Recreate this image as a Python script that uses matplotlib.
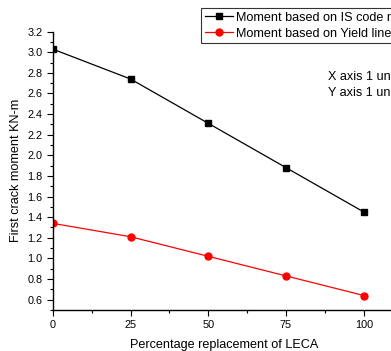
import matplotlib
matplotlib.use("Agg")
import matplotlib.pyplot as plt
from matplotlib.ticker import MultipleLocator

plt.rcParams['font.family'] = ['Liberation Sans', 'DejaVu Sans']

leca = [0, 25, 50, 75, 100]
moment_is = [3.03, 2.74, 2.31, 1.88, 1.45]
moment_yield = [1.34, 1.21, 1.02, 0.83, 0.64]

fig = plt.figure(figsize=(3.91, 3.51), dpi=100)
ax = fig.add_axes([0.135, 0.117, 0.875, 0.793])

ax.plot(leca, moment_is, color='black', lw=0.9, marker='s', ms=4.5,
        label='Moment based on IS code method')
ax.plot(leca, moment_yield, color='red', lw=0.9, marker='o', ms=5,
        label='Moment based on Yield line method')

ax.set_xlim(0, 110)
ax.set_ylim(0.5, 3.2)
ax.xaxis.set_major_locator(MultipleLocator(25))
ax.xaxis.set_minor_locator(MultipleLocator(12.5))
ax.yaxis.set_minor_locator(MultipleLocator(0.1))
ax.set_yticks([0.6 + 0.2 * i for i in range(14)])
ax.set_yticklabels([f'{0.6 + 0.2 * i:.1f}' for i in range(14)])
ax.tick_params(which='both', direction='out', labelsize=7.8, width=0.8)
ax.tick_params(which='major', length=4)
ax.tick_params(which='minor', length=2.5)

for s in ['top', 'right']:
    ax.spines[s].set_visible(False)
for s in ['left', 'bottom']:
    ax.spines[s].set_linewidth(1.0)

ax.set_xlabel('Percentage replacement of LECA', fontsize=9.1, labelpad=6)
ax.set_ylabel('First crack moment KN-m', fontsize=9.1, labelpad=4)

leg = fig.legend(loc='upper left', bbox_to_anchor=(201 / 391, 1 - 8 / 351),
                 fontsize=9.1, frameon=True, fancybox=False, edgecolor='black',
                 handlelength=2.2, handletextpad=0.3, borderpad=0.3,
                 labelspacing=0.3, borderaxespad=0)
leg.get_frame().set_linewidth(0.8)

fig.text(328 / 391, 1 - 77 / 351, 'X axis 1 unit = 25 %', fontsize=9.1,
         va='center', ha='left')
fig.text(328 / 391, 1 - 93 / 351, 'Y axis 1 unit = 0.2 KN-m', fontsize=9.1,
         va='center', ha='left')

fig.savefig('out.png', dpi=100)
